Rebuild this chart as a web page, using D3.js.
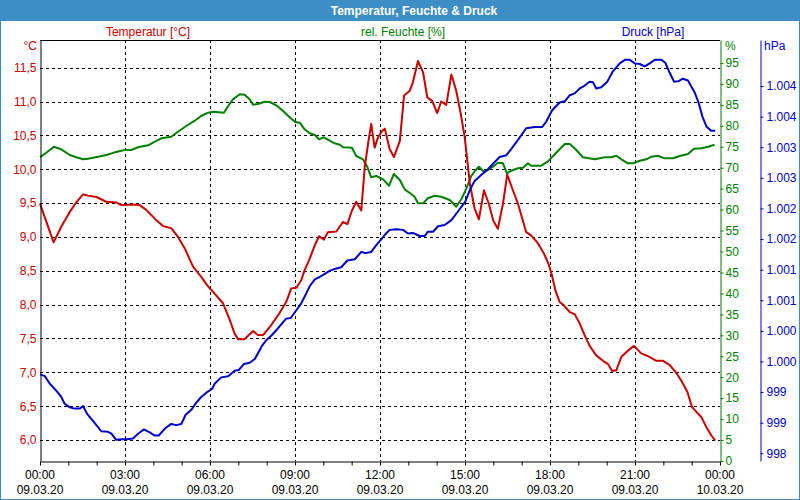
<!DOCTYPE html>
<html><head><meta charset="utf-8">
<script src="https://cdn.jsdelivr.net/npm/d3@7"></script>
<style>
html,body{margin:0;padding:0;background:#fff;}
svg{display:block;font-family:"Liberation Sans",Arial,sans-serif;font-size:12px;}
</style></head>
<body>
<svg id="c" width="800" height="500"></svg>
<script>
// ---- data ----
const title = "Temperatur, Feuchte & Druck";
const seriesNames = ["Temperatur [°C]", "rel. Feuchte [%]", "Druck [hPa]"];
const timeLabels = ["00:00","03:00","06:00","09:00","12:00","15:00","18:00","21:00","00:00"];
const dateLabels = ["09.03.20","09.03.20","09.03.20","09.03.20","09.03.20","09.03.20","09.03.20","09.03.20","10.03.20"];
const tempTicks = [6.0,6.5,7.0,7.5,8.0,8.5,9.0,9.5,10.0,10.5,11.0,11.5];
const humTicks = [0,5,10,15,20,25,30,35,40,45,50,55,60,65,70,75,80,85,90,95];
const presTicks = [998,998.5,999,999.5,1000,1000.5,1001,1001.5,1002,1002.5,1003,1003.5,1004];

const tempT = [0,0.17,0.48,0.75,1.05,1.28,1.52,1.69,1.99,2.34,2.69,2.87,3.05,3.22,3.52,3.75,4.05,4.34,4.63,4.87,5.11,5.40,5.69,5.93,6.17,6.46,6.70,6.87,6.99,7.22,7.52,7.69,7.87,8.11,8.40,8.69,8.87,9.05,9.22,9.34,9.52,9.70,9.85,10.02,10.16,10.46,10.69,10.85,11.01,11.16,11.34,11.46,11.58,11.69,11.81,11.93,12.07,12.17,12.34,12.49,12.70,12.85,13.05,13.16,13.34,13.52,13.67,13.84,14.02,14.16,14.34,14.52,14.69,14.85,14.99,15.08,15.17,15.26,15.34,15.49,15.67,15.84,16.00,16.16,16.34,16.49,16.69,16.87,17.16,17.34,17.55,17.79,17.95,18.07,18.19,18.34,18.49,18.70,18.87,19.05,19.22,19.40,19.63,19.87,20.05,20.19,20.34,20.52,20.75,20.96,21.22,21.46,21.75,21.99,22.22,22.46,22.63,22.85,23.01,23.16,23.34,23.52,23.69,23.83];
const tempV = [9.49,9.29,8.92,9.15,9.37,9.51,9.63,9.61,9.59,9.52,9.51,9.47,9.47,9.48,9.47,9.40,9.27,9.16,9.13,9.00,8.83,8.56,8.41,8.27,8.16,8.02,7.77,7.57,7.49,7.49,7.61,7.55,7.55,7.67,7.84,8.04,8.24,8.25,8.36,8.51,8.68,8.88,9.01,8.96,9.07,9.08,9.22,9.19,9.39,9.52,9.39,10.03,10.38,10.67,10.32,10.47,10.56,10.60,10.30,10.18,10.42,11.09,11.16,11.28,11.60,11.43,11.06,11.01,10.83,11.00,10.95,11.40,11.16,10.82,10.47,10.13,9.79,9.59,9.42,9.26,9.69,9.49,9.24,9.12,9.49,9.92,9.69,9.49,9.07,9.02,8.92,8.75,8.60,8.43,8.21,8.04,7.99,7.89,7.86,7.72,7.55,7.39,7.25,7.17,7.12,7.02,7.03,7.23,7.32,7.39,7.28,7.24,7.17,7.17,7.11,6.99,6.88,6.71,6.49,6.42,6.34,6.19,6.07,5.99];

const humT = [0,0.22,0.49,0.75,1.05,1.28,1.52,1.69,2.05,2.34,2.64,2.99,3.22,3.46,3.81,3.99,4.28,4.63,4.87,5.16,5.46,5.69,5.93,6.11,6.49,6.64,6.81,7.05,7.22,7.40,7.52,7.69,7.93,8.11,8.34,8.58,8.81,9.01,9.17,9.34,9.52,9.70,9.85,10.02,10.22,10.40,10.58,10.69,11.01,11.16,11.40,11.55,11.69,11.87,12.11,12.32,12.49,12.70,12.87,13.10,13.22,13.34,13.52,13.69,13.93,14.16,14.46,14.69,14.87,15.05,15.22,15.36,15.49,15.67,15.81,15.99,16.16,16.34,16.48,16.63,16.87,17.05,17.22,17.34,17.69,17.93,18.22,18.52,18.70,18.93,19.16,19.58,19.93,20.16,20.34,20.52,20.75,20.93,21.17,21.40,21.58,21.81,22.05,22.34,22.58,22.87,23.08,23.34,23.58,23.81];
const humV = [72.48,73.58,75.01,74.39,73.03,72.48,72.0,72.15,72.63,73.03,73.67,74.22,74.22,74.87,75.35,75.97,77.02,77.40,78.59,79.95,81.22,82.34,83.13,83.37,83.13,84.73,86.32,87.52,87.42,86.32,85.04,85.20,85.75,85.68,84.89,83.53,82.03,80.91,80.74,79.16,78.21,77.80,76.78,77.26,76.44,75.82,75.49,74.87,74.77,72.79,72.0,70.24,67.71,68.02,67.23,65.70,68.50,67.06,64.84,63.72,63.08,61.50,61.50,62.70,63.32,63.08,62.29,60.69,62.46,65.08,68.02,69.28,70.24,69.05,69.45,70.24,71.19,71.05,68.66,69.28,69.86,70.0,71.05,70.48,70.48,71.5,73.58,75.66,75.66,74.22,72.48,72.0,72.48,72.48,72.86,72.0,71.05,71.05,71.67,72.0,72.63,72.86,72.24,72.24,72.79,73.27,74.53,74.63,75.01,75.49];

const presT = [0,0.17,0.34,0.58,0.75,0.87,1.05,1.22,1.40,1.52,1.67,1.87,2.16,2.40,2.52,2.69,2.87,3.05,3.28,3.46,3.67,3.87,4.05,4.19,4.40,4.63,4.81,4.99,5.14,5.34,5.52,5.69,5.87,6.07,6.17,6.40,6.64,6.87,7.01,7.20,7.40,7.58,7.69,7.84,7.99,8.16,8.34,8.52,8.69,8.85,8.99,9.22,9.34,9.52,9.70,9.87,10.05,10.22,10.40,10.63,10.85,11.11,11.34,11.48,11.69,11.87,12.07,12.17,12.34,12.58,12.81,12.99,13.16,13.40,13.58,13.69,13.87,14.05,14.28,14.52,14.75,15.01,15.17,15.34,15.58,15.81,16.05,16.22,16.46,16.63,16.87,17.16,17.46,17.72,17.87,18.07,18.34,18.52,18.70,18.87,19.05,19.20,19.40,19.52,19.63,19.81,20.02,20.22,20.46,20.66,20.81,20.99,21.17,21.34,21.52,21.70,21.93,22.07,22.22,22.38,22.54,22.69,22.87,23.11,23.25,23.38,23.52,23.69,23.83];
const presV = [999.29,999.26,999.14,999.02,998.92,998.81,998.75,998.73,998.73,998.77,998.64,998.53,998.36,998.35,998.32,998.22,998.23,998.23,998.24,998.32,998.39,998.34,998.29,998.29,998.40,998.48,998.46,998.48,998.63,998.71,998.83,998.92,998.99,999.05,999.14,999.24,999.26,999.35,999.36,999.46,999.48,999.54,999.63,999.76,999.85,999.92,1000.01,1000.11,1000.20,1000.21,1000.30,1000.45,1000.56,1000.73,1000.84,1000.88,1000.93,1000.98,1001.01,1001.04,1001.15,1001.17,1001.29,1001.27,1001.29,1001.40,1001.51,1001.57,1001.65,1001.66,1001.65,1001.59,1001.60,1001.55,1001.55,1001.62,1001.62,1001.71,1001.73,1001.81,1001.95,1002.11,1002.30,1002.45,1002.55,1002.64,1002.76,1002.84,1002.87,1002.97,1003.12,1003.31,1003.33,1003.33,1003.42,1003.60,1003.73,1003.75,1003.85,1003.88,1003.96,1004.00,1004.07,1004.06,1003.96,1003.98,1004.07,1004.24,1004.37,1004.43,1004.43,1004.37,1004.36,1004.32,1004.37,1004.43,1004.43,1004.38,1004.22,1004.07,1004.08,1004.12,1004.09,1003.89,1003.72,1003.50,1003.34,1003.27,1003.27];

// ---- layout ----
const L = 40, R = 720, T = 40, B = 461;
const RED = "#cc0000", GREEN = "#008000", BLUE = "#0000cc", FRAME = "#3d8ec6";

const svg = d3.select("#c");
const x = d3.scaleLinear().domain([0, 24]).range([L, R]);
const yT = d3.scaleLinear().domain([5.690, 11.909]).range([B, T]);
const yH = d3.scaleLinear().domain([0, 100.48]).range([B, T]);
const yP = d3.scaleLinear().domain([997.874, 1004.752]).range([B, T]);

// window frame
svg.append("rect").attr("x",0).attr("y",0).attr("width",800).attr("height",21).attr("fill",FRAME);
svg.append("rect").attr("x",0.5).attr("y",0.5).attr("width",799).attr("height",499).attr("fill","none").attr("stroke",FRAME).attr("stroke-width",1);
svg.append("text").attr("x",414).attr("y",10.5).attr("text-anchor","middle").attr("dominant-baseline","central")
  .attr("fill","#fff").attr("font-weight","bold").attr("font-size","12px").text(title);

// legend texts
[[148,RED],[403,GREEN],[653,BLUE]].forEach((p,i)=>{
  svg.append("text").attr("x",p[0]).attr("y",32).attr("text-anchor","middle").attr("dominant-baseline","central")
    .attr("fill",p[1]).text(seriesNames[i]);
});

// grid
const grid = svg.append("g").attr("stroke","#000").attr("stroke-width",1).attr("stroke-dasharray","3,3").attr("shape-rendering","crispEdges");
grid.selectAll("line.h").data(tempTicks).join("line").attr("class","h")
  .attr("x1",L).attr("x2",R).attr("y1",d=>Math.round(yT(d))+0.5).attr("y2",d=>Math.round(yT(d))+0.5);
grid.selectAll("line.v").data(d3.range(3,24,3)).join("line").attr("class","v")
  .attr("y1",T).attr("y2",B).attr("x1",d=>Math.round(x(d))+0.5).attr("x2",d=>Math.round(x(d))+0.5);

// lines
function drawLine(ts, vs, yScale, color){
  const pts = ts.map((t,i)=>[t, vs[i]]);
  svg.append("path").datum(pts).attr("fill","none").attr("stroke",color).attr("stroke-width",2)
    .attr("stroke-linejoin","round")
    .attr("d", d3.line().x(d=>x(d[0])).y(d=>yScale(d[1])));
}
drawLine(humT, humV, yH, GREEN);
drawLine(tempT, tempV, yT, RED);
drawLine(presT, presV, yP, BLUE);

// frame lines
svg.append("line").attr("x1",L).attr("x2",R).attr("y1",T+0.5).attr("y2",T+0.5).attr("stroke","#000").attr("shape-rendering","crispEdges");

// bottom axis
const xAxis = d3.axisBottom(x).tickValues(d3.range(0,25,1)).tickSize(4).tickSizeOuter(0).tickFormat("");
const gx = svg.append("g").attr("transform",`translate(0,${B+0.5})`).call(xAxis);
gx.select(".domain").attr("stroke","#000");
gx.selectAll(".tick line").attr("stroke","#000");
const lab = svg.append("g").attr("fill","#000").attr("text-anchor","middle");
timeLabels.forEach((s,i)=>{
  lab.append("text").attr("x",x(i*3)).attr("y",475).attr("dominant-baseline","central").text(s);
  lab.append("text").attr("x",x(i*3)).attr("y",490).attr("dominant-baseline","central").text(dateLabels[i]);
});

// left axis (temperature)
const fmtT = d => d.toFixed(1).replace(".", ",");
const gl = svg.append("g").attr("transform",`translate(${L+0.5},0)`)
  .call(d3.axisLeft(yT).tickValues(tempTicks).tickSize(0).tickPadding(4).tickFormat(fmtT));
gl.select(".domain").attr("stroke","#000");
gl.selectAll("text").attr("fill",RED).attr("font-size","12px").attr("font-family","Liberation Sans, Arial, sans-serif");
svg.append("text").attr("x",37).attr("y",46).attr("text-anchor","end").attr("dominant-baseline","central").attr("fill",RED).text("°C");

// right axis humidity
const gh = svg.append("g").attr("transform",`translate(${R+0.5},0)`)
  .call(d3.axisRight(yH).tickValues(humTicks).tickSize(3).tickSizeOuter(0).tickPadding(2).tickFormat(d=>String(d)));
gh.select(".domain").attr("stroke",GREEN);
gh.selectAll(".tick line").attr("stroke",GREEN);
gh.selectAll("text").attr("fill",GREEN).attr("font-size","12px").attr("font-family","Liberation Sans, Arial, sans-serif");
svg.append("text").attr("x",725).attr("y",46).attr("dominant-baseline","central").attr("fill",GREEN).text("%");

// right axis pressure
const de = d3.formatLocale({decimal:",", thousands:".", grouping:[3], currency:["",""]});
const fmtP = de.format(",d");
const gp = svg.append("g").attr("transform",`translate(760.5,0)`)
  .call(d3.axisRight(yP).tickValues(presTicks).tickSize(3).tickSizeOuter(0).tickPadding(3).tickFormat(d=>fmtP(Math.round(d))));
gp.select(".domain").attr("stroke",BLUE);
gp.selectAll(".tick line").attr("stroke",BLUE);
gp.selectAll("text").attr("fill",BLUE).attr("font-size","12px").attr("font-family","Liberation Sans, Arial, sans-serif");
svg.append("text").attr("x",764).attr("y",46).attr("dominant-baseline","central").attr("fill",BLUE).text("hPa");
</script>
</body></html>
